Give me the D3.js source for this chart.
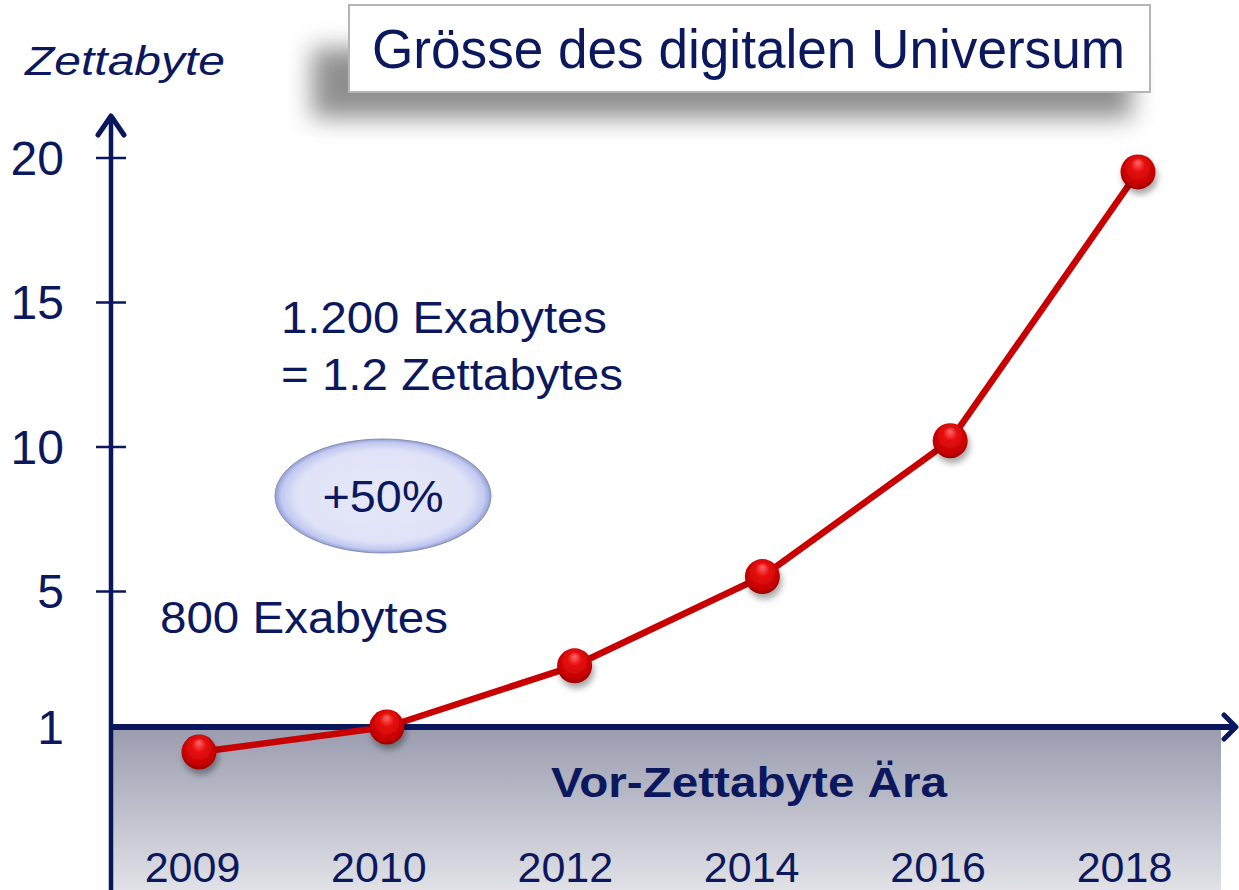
<!DOCTYPE html>
<html><head><meta charset="utf-8">
<script src="https://cdn.jsdelivr.net/npm/d3@7"></script>
<style>
html,body{margin:0;padding:0;background:#fff;}
svg{display:block;}
text{font-family:"Liberation Sans",Arial,sans-serif;}
</style></head>
<body>
<script>
// ---- data ----
const years = ["2009","2010","2012","2014","2016","2018"];
const zettabytes = [0.8, 1.0, 2.8, 5.5, 10.2, 19.5];
const yTicks = [1, 5, 10, 15, 20];
const titleText = "Grösse des digitalen Universum";
const yAxisTitle = "Zettabyte";
const noteLines = ["1.200 Exabytes", "= 1.2 Zettabytes"];
const growthLabel = "+50%";
const startLabel = "800 Exabytes";
const eraLabel = "Vor-Zettabyte Ära";

const W = 1239, H = 890;
const navy = "#0b175c", textCol = "#0c185e", red = "#c80000";

const svg = d3.select("body").append("svg").attr("width", W).attr("height", H);
const defs = svg.append("defs");

// scales (broken-style axis: 0..1 compressed region below the x axis)
const y = d3.scaleLinear().domain([0, 1, 5, 20]).range([852, 727, 591, 157.5]);
const xPt = d3.scalePoint().domain(years).range([199, 1138]);
const xLab = d3.scalePoint().domain(years).range([192, 1124]);
const axisX = 111, axisRight = 1221;

// gradients & filters
const band = defs.append("linearGradient").attr("id","band").attr("x1",0).attr("y1",0).attr("x2",0).attr("y2",1);
band.append("stop").attr("offset","0%").attr("stop-color","#9a9caf");
band.append("stop").attr("offset","100%").attr("stop-color","#e1e1e7");

const ball = defs.append("radialGradient").attr("id","ball").attr("cx","50%").attr("cy","45%").attr("r","55%").attr("fx","50%").attr("fy","22%");
ball.append("stop").attr("offset","0%").attr("stop-color","#ff6a6a");
ball.append("stop").attr("offset","35%").attr("stop-color","#e81010");
ball.append("stop").attr("offset","85%").attr("stop-color","#c40000");
ball.append("stop").attr("offset","100%").attr("stop-color","#8e0000");

const ell = defs.append("radialGradient").attr("id","ell").attr("cx","50%").attr("cy","50%").attr("r","50%");
ell.append("stop").attr("offset","0%").attr("stop-color","#e6e8f8");
ell.append("stop").attr("offset","80%").attr("stop-color","#e0e3f7");
ell.append("stop").attr("offset","94%").attr("stop-color","#c2c9f0");
ell.append("stop").attr("offset","100%").attr("stop-color","#929ed8");

const sh = defs.append("filter").attr("id","ballShadow").attr("x","-50%").attr("y","-50%").attr("width","200%").attr("height","200%");
sh.append("feDropShadow").attr("dx",2).attr("dy",5).attr("stdDeviation",3).attr("flood-color","#000").attr("flood-opacity",0.35);

const blur = defs.append("filter").attr("id","boxBlur").attr("x","-20%").attr("y","-50%").attr("width","140%").attr("height","200%");
blur.append("feGaussianBlur").attr("stdDeviation",12);

// title box with shadow
svg.append("rect").attr("x",312).attr("y",48).attr("width",820).attr("height",70)
  .attr("fill","#6a6a6a").attr("opacity",0.75).attr("filter","url(#boxBlur)");
svg.append("rect").attr("x",349).attr("y",5).attr("width",801).attr("height",87)
  .attr("fill","#fff").attr("stroke","#b5b5b5").attr("stroke-width",2);
svg.append("text").attr("x",372).attr("y",68).attr("font-size",56).attr("fill",textCol)
  .attr("textLength",753).attr("lengthAdjust","spacingAndGlyphs").text(titleText);

// y-axis title
svg.append("text").attr("x",25).attr("y",75).attr("font-size",40).attr("font-style","italic")
  .attr("fill",textCol).attr("textLength",200).attr("lengthAdjust","spacingAndGlyphs").text(yAxisTitle);

// era band below x axis
svg.append("rect").attr("x",axisX).attr("y",y(1)).attr("width",axisRight-axisX).attr("height",H-y(1))
  .attr("fill","url(#band)");

// y axis ticks/labels
const yAxis = d3.axisLeft(y).tickValues(yTicks).tickSize(15).tickPadding(32).tickFormat(d3.format("d"));
const gy = svg.append("g").attr("transform",`translate(${axisX},0)`).call(yAxis);
gy.select(".domain").remove();
gy.selectAll(".tick line").attr("x1",-15).attr("x2",15).attr("stroke",navy).attr("stroke-width",2.5)
  .attr("display", d => d === 1 ? "none" : null);
gy.selectAll(".tick text").attr("font-size",48).attr("fill",textCol)
  .attr("font-family","Liberation Sans, Arial, sans-serif").attr("dy","0.35em");

// axis lines with open arrowheads
svg.append("line").attr("x1",axisX).attr("y1",H).attr("x2",axisX).attr("y2",116)
  .attr("stroke",navy).attr("stroke-width",4.5);
svg.append("polyline").attr("points",`${axisX-13},135 ${axisX},116 ${axisX+13},135`)
  .attr("fill","none").attr("stroke",navy).attr("stroke-width",5).attr("stroke-linecap","round").attr("stroke-linejoin","round");
svg.append("line").attr("x1",axisX).attr("y1",y(1)).attr("x2",1235).attr("y2",y(1))
  .attr("stroke",navy).attr("stroke-width",6);
svg.append("polyline").attr("points",`1224,715 1236,${y(1)} 1224,739`)
  .attr("fill","none").attr("stroke",navy).attr("stroke-width",5).attr("stroke-linecap","round").attr("stroke-linejoin","round");

// x axis labels
const xAxis = d3.axisBottom(xLab).tickSize(0).tickPadding(0);
const gx = svg.append("g").attr("transform",`translate(0,${H-42})`).call(xAxis);
gx.select(".domain").remove();
gx.selectAll(".tick text").attr("font-size",43).attr("fill",textCol)
  .attr("font-family","Liberation Sans, Arial, sans-serif").attr("dy","0.78em");

// era label
svg.append("text").attr("x",749).attr("y",797).attr("text-anchor","middle").attr("font-size",43)
  .attr("font-weight","bold").attr("fill",textCol).attr("textLength",396).attr("lengthAdjust","spacingAndGlyphs").text(eraLabel);

// annotations
svg.append("text").attr("x",281).attr("y",333).attr("font-size",44).attr("fill",textCol)
  .attr("textLength",326).attr("lengthAdjust","spacingAndGlyphs").text(noteLines[0]);
svg.append("text").attr("x",281).attr("y",390).attr("font-size",44).attr("fill",textCol)
  .attr("textLength",342).attr("lengthAdjust","spacingAndGlyphs").text(noteLines[1]);
svg.append("text").attr("x",160).attr("y",633).attr("font-size",44).attr("fill",textCol)
  .attr("textLength",288).attr("lengthAdjust","spacingAndGlyphs").text(startLabel);

// growth ellipse
svg.append("ellipse").attr("cx",383).attr("cy",496).attr("rx",108).attr("ry",57)
  .attr("fill","url(#ell)").attr("stroke","#8a8fb0").attr("stroke-width",1);
svg.append("text").attr("x",383).attr("y",512).attr("text-anchor","middle").attr("font-size",44)
  .attr("fill",textCol).attr("textLength",121).attr("lengthAdjust","spacingAndGlyphs").text(growthLabel);

// data line + balls
const pts = years.map((yr,i)=>({yr, v: zettabytes[i]}));
const line = d3.line().x(d=>xPt(d.yr)).y(d=>y(d.v));
svg.append("path").datum(pts).attr("d",line).attr("fill","none").attr("stroke",red)
  .attr("stroke-width",6.5).attr("stroke-linejoin","round");
svg.selectAll("circle.ball").data(pts).join("circle").attr("class","ball")
  .attr("cx",d=>xPt(d.yr)).attr("cy",d=>y(d.v)).attr("r",17.5)
  .attr("fill","url(#ball)").attr("filter","url(#ballShadow)");
</script>
</body></html>
